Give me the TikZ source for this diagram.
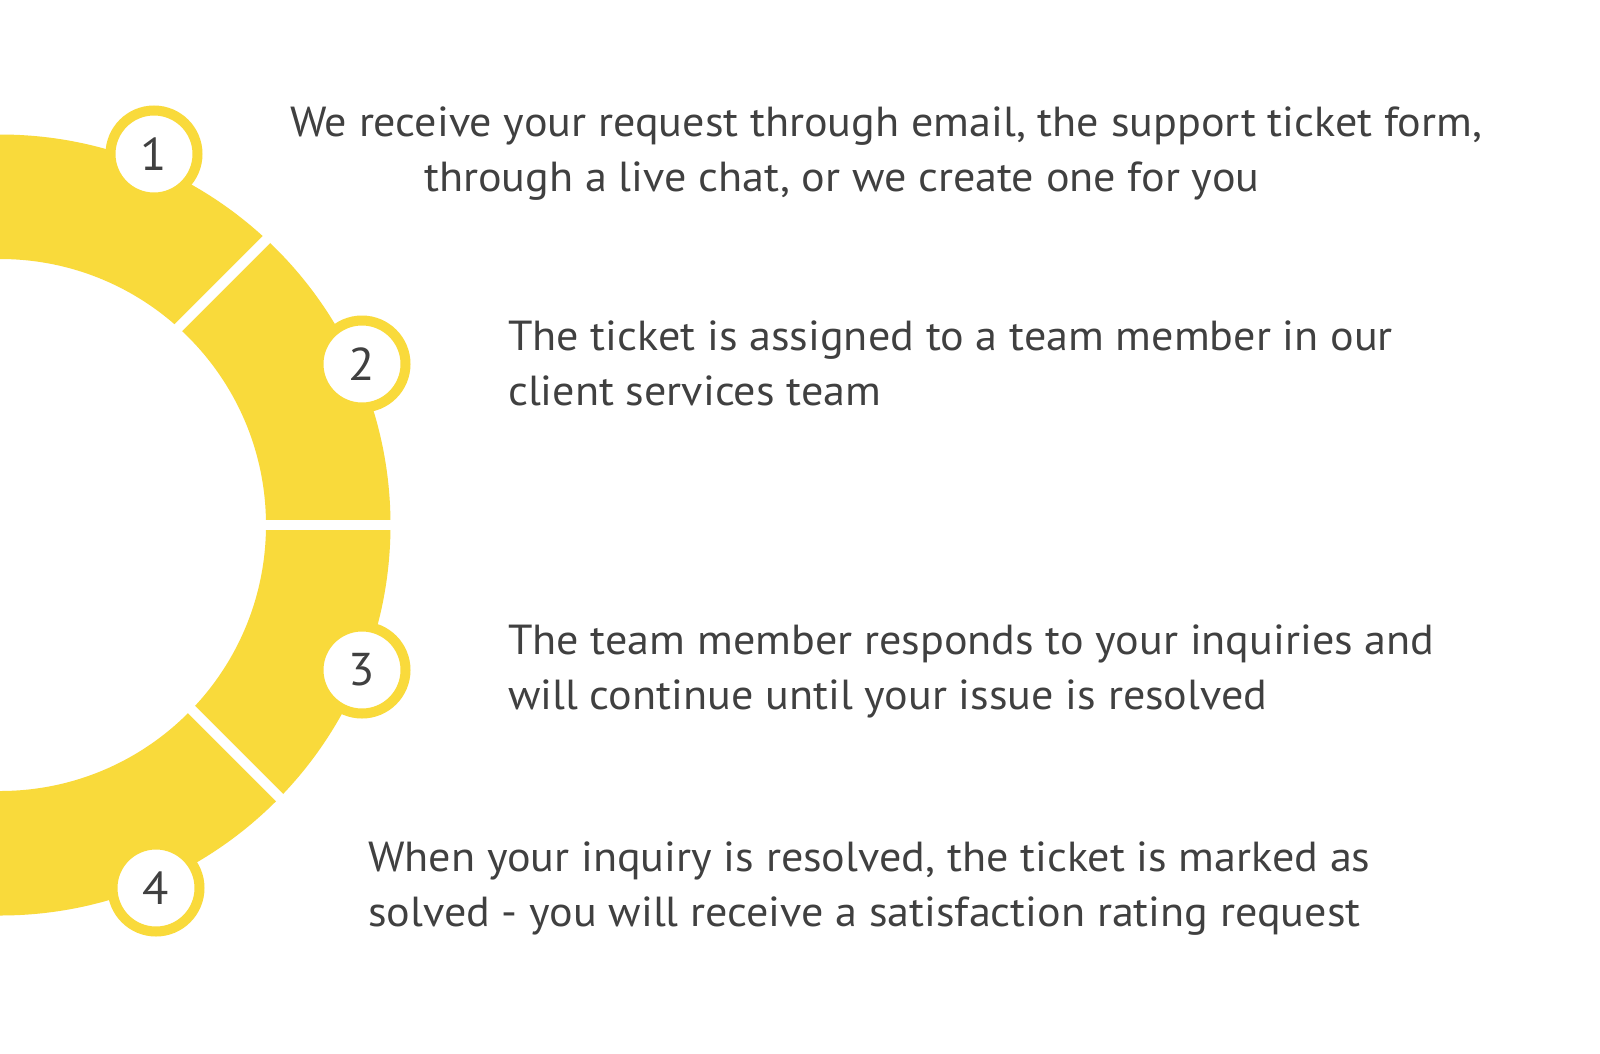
\documentclass[tikz,border=0pt]{standalone}
\usepackage{fontspec}
\setmainfont[FakeStretch=1.05]{PT Sans}
\definecolor{ring}{HTML}{F9DA3B}
\definecolor{ink}{HTML}{404040}
\begin{document}
\begin{tikzpicture}[x=1pt,y=-1pt,
  txt/.style={anchor=base west,inner sep=0pt,text=ink,font=\fontsize{42}{55}\selectfont},
  num/.style={circle,draw=ring,line width=10pt,fill=white,minimum size=87pt,inner sep=0pt,text=ink,font=\fontsize{46}{50}\selectfont},
  gapline/.style={draw=white,line width=10pt}]
\useasboundingbox (0,0) rectangle (1600,1053);
\fill[white] (0,0) rectangle (1600,1053);
\begin{scope}
\clip (0,0) rectangle (1600,1053);
\fill[ring,even odd rule] (0,525) circle[radius=390.5pt] (0,525) circle[radius=266pt];
\end{scope}
\draw[gapline] (150,356) -- (300,206);
\draw[gapline] (240,524.5) -- (420,524.5);
\draw[gapline] (165,683) -- (310,828);
\node[num] (n1) at (154,154) {1};
\node[num] (n2) at (362,364) {2};
\node[num] (n3) at (362,670) {3};
\node[num] (n4) at (156,888) {4};
\node[txt] (t1a) at (290,136) {We receive your request through email, the support ticket form,};
\node[txt] (t1b) at (424,191) {through a live chat, or we create one for you};
\node[txt] (t2a) at (508,350) {The ticket is assigned to a team member in our};
\node[txt] (t2b) at (508,405) {client services team};
\node[txt] (t3a) at (508,654) {The team member responds to your inquiries and};
\node[txt] (t3b) at (508,709) {will continue until your issue is resolved};
\node[txt] (t4a) at (368,871) {When your inquiry is resolved, the ticket is marked as};
\node[txt] (t4b) at (368,926) {solved - you will receive a satisfaction rating request};
\end{tikzpicture}
\end{document}
